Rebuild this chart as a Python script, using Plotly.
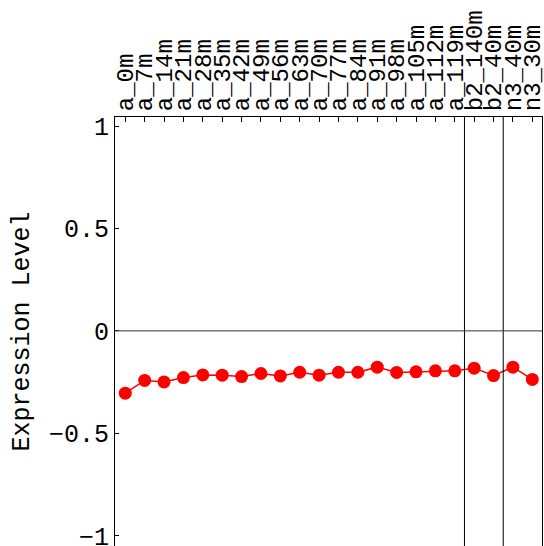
import plotly.graph_objects as go

categories = ["a_0m", "a_7m", "a_14m", "a_21m", "a_28m", "a_35m", "a_42m", "a_49m",
              "a_56m", "a_63m", "a_70m", "a_77m", "a_84m", "a_91m", "a_98m", "a_105m",
              "a_112m", "a_119m", "b2_140m", "b2_40m", "n3_40m", "n3_30m"]
values = [-0.304, -0.242, -0.249, -0.228, -0.215, -0.216, -0.223, -0.208,
          -0.220, -0.202, -0.216, -0.202, -0.202, -0.177, -0.203, -0.200,
          -0.195, -0.195, -0.182, -0.218, -0.177, -0.237]
separators = [17.5, 19.5]
y_ticks = [-1, -0.5, 0, 0.5, 1]
y_tick_text = ["\u22121", "\u22120.5", "0", "0.5", "1"]

FONT = "Liberation Mono"
x_idx = list(range(len(categories)))

fig = go.Figure()
fig.add_trace(go.Scatter(
    x=x_idx, y=values, mode="lines+markers",
    line=dict(color="#ff0000", width=1.5),
    marker=dict(color="#ff0000", size=13),
    showlegend=False, cliponaxis=False,
))

for s in separators:
    fig.add_shape(type="line", xref="x", yref="paper", x0=s, x1=s, y0=0, y1=1,
                  line=dict(color="black", width=1))
fig.add_shape(type="line", xref="paper", yref="y", x0=0, x1=1, y0=0, y1=0,
              line=dict(color="#333333", width=1))

fig.update_layout(
    width=544, height=546,
    margin=dict(l=115, r=2, t=117, b=0, autoexpand=False),
    paper_bgcolor="white", plot_bgcolor="white",
    font=dict(family=FONT, color="black"),
    xaxis=dict(
        side="top", range=[-0.53, 21.5], automargin=False,
        tickmode="array", tickvals=x_idx, ticktext=categories,
        tickangle=-90, tickfont=dict(family=FONT, size=24, color="black"),
        ticks="inside", ticklen=5, tickcolor="black",
        showline=True, linecolor="black", linewidth=1, mirror=True,
        showgrid=False, zeroline=False, ticklabeloverflow="allow",
    ),
    yaxis=dict(
        range=[-1.05, 1.044], automargin=False,
        tickmode="array", tickvals=y_ticks, ticktext=y_tick_text,
        tickfont=dict(family=FONT, size=25, color="black"),
        ticks="inside", ticklen=4, tickcolor="black",
        showline=True, linecolor="black", linewidth=1, mirror=True,
        showgrid=False, zeroline=False, ticklabeloverflow="allow",
        title=dict(text="Expression Level", font=dict(family=FONT, size=25, color="black"),
                   standoff=12),
    ),
)

fig.write_html(
    "out.html",
    config={"displayModeBar": False},
    post_script="document.body.style.margin='0';document.body.style.overflow='hidden';",
)
